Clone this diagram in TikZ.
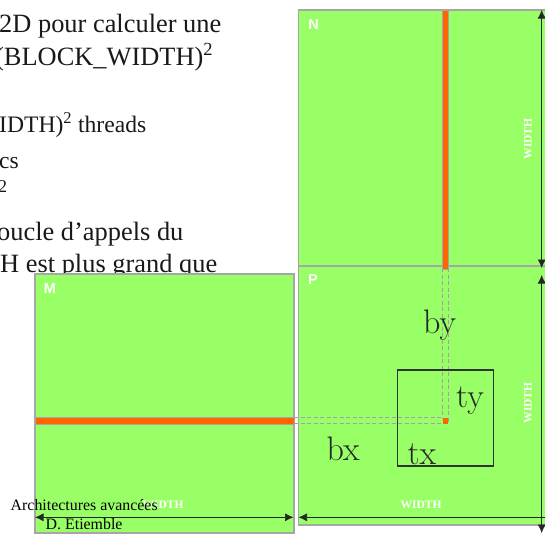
\documentclass[tikz,border=0pt]{standalone}
\usepackage{fontspec}
\setmainfont{Liberation Serif}
\newfontfamily\arialf{Liberation Sans}
\usetikzlibrary{arrows.meta}
\definecolor{gbg}{HTML}{99FF66}
\definecolor{org}{HTML}{FF6600}
\definecolor{edge}{HTML}{A6A6A6}
\definecolor{guidec}{HTML}{A89CB4}
\tikzset{
 x=1pt,y=-1pt,
 panel/.style={draw=edge,line width=1.2pt,fill=gbg},
 bar/.style={fill=org,draw=edge,line width=0.9pt},
 guide/.style={draw=guidec,line width=0.9pt,dash pattern=on 4pt off 2.5pt},
 headtip/.tip={Latex[length=8.5pt,width=8pt]},
 dim/.style={draw=black!85,line width=0.7pt,headtip-headtip},
 dimleft/.style={draw=black!85,line width=0.7pt,headtip-},
 plabel/.style={font=\arialf\bfseries\fontsize{14.5}{16}\selectfont,text=white,inner sep=0pt},
 wlabel/.style={font=\bfseries\fontsize{11.5}{13}\selectfont,text=white,inner sep=0pt},
 bodytext/.style={anchor=base west,inner sep=0pt,text=black!90},
 big/.style={bodytext,font=\fontsize{26.4}{30}\selectfont},
 mid/.style={bodytext,font=\fontsize{23.6}{27}\selectfont},
 foot/.style={anchor=base west,inner sep=0pt,font=\fontsize{15.9}{18}\selectfont},
 tcode/.style={anchor=base west,inner sep=0pt,font=\fontfamily{lmr}\fontsize{34}{38}\selectfont,text=black!85},
}
\begin{document}
\begin{tikzpicture}
\useasboundingbox (0,0) rectangle (545,533);
\clip (0,0) rectangle (545,533);
% clipped text of the slide
\node[big] (t1) at (-1,32) {2D pour calculer une};
\node[big] (t2) at (-5,65) {(BLOCK\_WIDTH)\textsuperscript{2}};
\node[mid] (t3) at (-1,132.5) {IDTH)\textsuperscript{2} threads};
\node[mid] (t4) at (-1,168) {cs};
\node[mid,font=\fontsize{18}{20}\selectfont] (t5) at (-2,192.5) {2};
\node[big] (t6) at (-3,240) {oucle d’appels du};
\node[big] (t7) at (0,272.5) {H est plus grand que};
% panels
\filldraw[panel] (298.5,10) rectangle (547,266);
\filldraw[panel] (298.5,266) rectangle (547,525);
\filldraw[panel] (35,274) rectangle (294,533);
% guides
\draw[guide] (442.7,268) -- (442.7,418);
\draw[guide] (448.2,268) -- (448.2,424);
\draw[guide] (294,417.8) -- (442.7,417.8);
\draw[guide] (294,423.5) -- (448.2,423.5);
% bars
\filldraw[bar] (442.5,10) rectangle (448,269);
\fill[org] (35.5,418) rectangle (293.5,423.7);
\draw[edge,line width=.9pt] (35,417.7) -- (294,417.7) (35,424) -- (294,424);
\fill[org] (443,418.3) rectangle (448,423.7);
% tile
\draw[black!80,line width=1.2pt] (397.7,370) rectangle (493.3,466);
% labels
\node[plabel] (n) at (313.5,24.5) {N};
\node[plabel] (p) at (313,280) {P};
\node[plabel] (m) at (50,288.5) {M};
\node[wlabel,rotate=90] (w1) at (528,139) {WIDTH};
\node[wlabel,rotate=90] (w2) at (528,403) {WIDTH};
\node[wlabel] (w3) at (421,505) {WIDTH};
\node[wlabel] (w4) at (163,505) {WIDTH};
\node[tcode] (by) at (423,333) {by};
\node[tcode] (ty) at (456,407) {ty};
\node[tcode] (bx) at (326.5,460.7) {bx};
\node[tcode] (tx) at (407.5,464) {tx};
% dimension lines
\coordinate (a1) at (541.7,10); \coordinate (a2) at (541.7,268);
\coordinate (a3) at (541.7,275); \coordinate (a4) at (541.7,533);
\coordinate (a5) at (35,517.3); \coordinate (a6) at (293.5,517.3);
\coordinate (a7) at (298.5,517.3); \coordinate (a8) at (548,517.3);
\draw[dim] (a1) -- (a2);
\draw[dim] (a3) -- (a4);
\draw[dim] (a5) -- (a6);
\draw[dimleft] (a7) -- (a8);
% footer
\node[foot] (f1) at (10.5,510) {Architectures avancées};
\node[foot] (f2) at (45.5,529) {D. Etiemble};
\end{tikzpicture}
\end{document}
